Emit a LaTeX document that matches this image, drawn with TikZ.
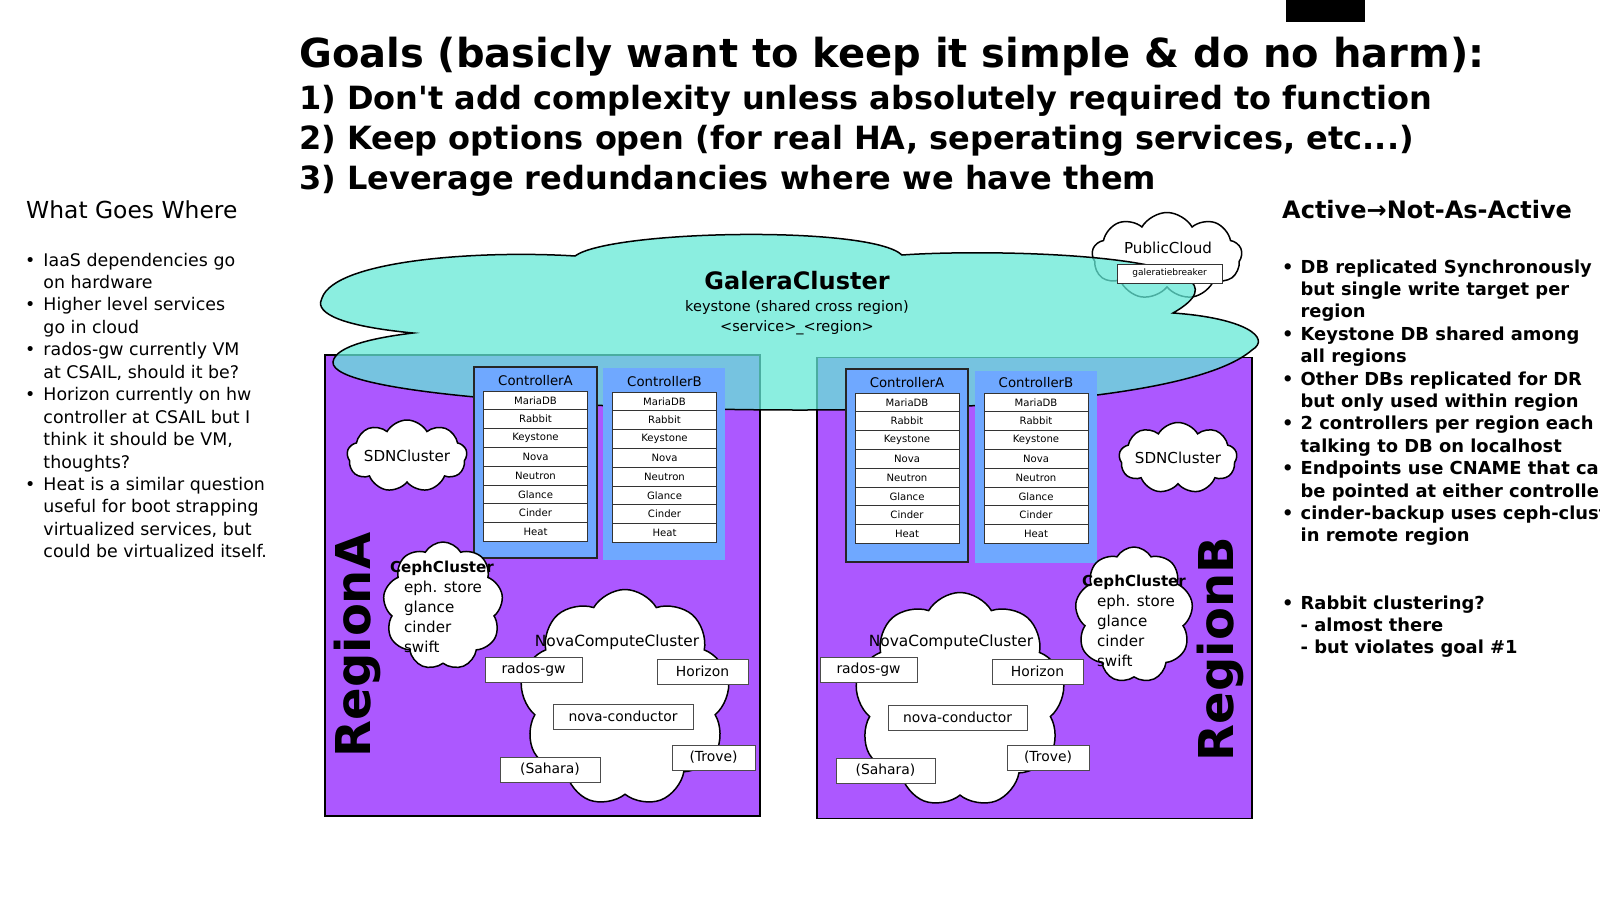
\documentclass[tikz,border=0pt]{standalone}
\usepackage{fontspec}
\setmainfont{DejaVu Sans}
\usetikzlibrary{shapes,positioning}
\definecolor{regionpurple}{RGB}{172,88,255}
\definecolor{galerateal}{RGB}{100,232,214}
\definecolor{ctrlblue}{RGB}{111,168,255}

\begin{document}
\begin{tikzpicture}[x=1pt,y=-1pt]
  \useasboundingbox (0,0) rectangle (1600,900);

  \coordinate (RegA) at (542.5,585.5);
  \coordinate (RegB) at (1034.5,588);
  \coordinate (Public) at (1167,256);
  \coordinate (CtlAA) at (535.5,462.5);
  \coordinate (CtlAB) at (664,464);
  \coordinate (CtlBA) at (907,465.5);
  \coordinate (CtlBB) at (1036,467);
  \coordinate (SdnA) at (407,456);
  \coordinate (SdnB) at (1178,458);
  \coordinate (CephA) at (443,606);
  \coordinate (CephB) at (1134,615);
  \coordinate (NovaA) at (625,698);
  \coordinate (NovaB) at (960,700);

  \tikzstyle{regbox}=[draw=black,line width=1.5pt,fill=regionpurple,
                      minimum width=435pt,minimum height=461pt,inner sep=0pt];
  \tikzstyle{ctlbox}=[fill=ctrlblue,minimum width=122pt,minimum height=192pt,
                      inner sep=0pt];
  \tikzstyle{svcbox}=[draw=black!80,fill=white,line width=1pt,
                      minimum width=104pt,minimum height=18.8pt,inner sep=0pt,
                      font=\fontsize{10.1}{12}\selectfont];
  \tikzstyle{puff}=[cloud,cloud puffs=9,cloud puff arc=120,cloud ignores aspect,
                    draw=black,line width=1.5pt,fill=white,inner sep=0pt];
  \tikzstyle{appbox}=[draw=black!70,fill=white,line width=1pt,
                      minimum height=25pt,inner sep=0pt,
                      font=\fontsize{13.9}{16}\selectfont];
  \tikzstyle{cluslabel}=[inner sep=0pt,font=\fontsize{15.1}{20}\selectfont];

  % header and side notes
  \fill (1286,0) rectangle (1365,22);
  \node[anchor=base west,inner sep=0pt,font=\fontsize{40}{48}\selectfont\bfseries]
       (GoalTitle) at (299,67) {Goals (basicly want to keep it simple \& do no harm):};
  \node[anchor=base west,inner sep=0pt,font=\fontsize{32}{40}\selectfont\bfseries]
       (GoalList) at (299,109) {\begin{tabular}[t]{@{}l@{}}
       1) Don\textquotesingle t add complexity unless absolutely required to function\\
       2) Keep options open (for real HA, seperating services, etc...)\\
       3) Leverage redundancies where we have them\end{tabular}};

  \node[anchor=base west,inner sep=0pt,font=\fontsize{23.4}{28}\selectfont]
       (WhereTitle) at (26,218) {What Goes Where};
  \node[anchor=base west,inner sep=0pt,font=\fontsize{17.4}{22.45}\selectfont]
       (WhereList) at (25,266) {\begin{tabular}[t]{@{}l@{\hspace{8pt}}l@{}}
       \textbullet & IaaS dependencies go\\
                   & on hardware\\
       \textbullet & Higher level services\\
                   & go in cloud\\
       \textbullet & rados-gw currently VM\\
                   & at CSAIL, should it be?\\
       \textbullet & Horizon currently on hw\\
                   & controller at CSAIL but I\\
                   & think it should be VM,\\
                   & thoughts?\\
       \textbullet & Heat is a similar question\\
                   & useful for boot strapping\\
                   & virtualized services, but\\
                   & could be virtualized itself.\end{tabular}};

  \node[anchor=base west,inner sep=0pt,font=\fontsize{24}{28}\selectfont\bfseries]
       (ActiveTitle) at (1282,218) {Active→Not-As-Active};
  \node[anchor=base west,inner sep=0pt,font=\fontsize{17.9}{22.4}\selectfont\bfseries]
       (ActiveList) at (1282,273) {\begin{tabular}[t]{@{}l@{\hspace{7pt}}l@{}}
       \textbullet & DB replicated Synchronously\\
                   & but single write target per\\
                   & region\\
       \textbullet & Keystone DB shared among\\
                   & all regions\\
       \textbullet & Other DBs replicated for DR\\
                   & but only used within region\\
       \textbullet & 2 controllers per region each\\
                   & talking to DB on localhost\\
       \textbullet & Endpoints use CNAME that can\\
                   & be pointed at either controller\\
       \textbullet & cinder-backup uses ceph-cluster\\
                   & in remote region\\
                   & \\
                   & \\
       \textbullet & Rabbit clustering?\\
                   & - almost there\\
                   & - but violates goal \#1\end{tabular}};

  % regions and the shared galera cloud
  \node[regbox] (RegionABox) at (RegA) {};
  \node[regbox] (RegionBBox) at (RegB) {};

  \node[puff,minimum width=150pt,minimum height=87pt] (PublicCloud) at (Public) {};

  \draw[fill=galerateal,fill opacity=0.75,line width=1.5pt]
       (575,256) .. controls (610,230) and (870,225) .. (902,255)
       .. controls (1000,248) and (1275,255) .. (1173,313)
       .. controls (1245,318) and (1272,338) .. (1252,350)
       .. controls (1200,395) and (1000,410) .. (800,410)
       .. controls (600,410) and (330,395) .. (333,362)
       .. controls (335,345) and (380,337) .. (413,333)
       .. controls (330,325) and (315,310) .. (322,298)
       .. controls (335,260) and (480,250) .. (575,256) -- cycle;

  \node[inner sep=0pt,font=\fontsize{24}{28}\selectfont\bfseries]
       (GaleraTitle) at (797,281) {GaleraCluster};
  \node[inner sep=0pt,align=center,font=\fontsize{14.5}{20}\selectfont,
        below=10pt of GaleraTitle] (GaleraText)
       {keystone (shared cross region)\\<service>\_<region>};
  \node[cluslabel] (PublicText) at (1168,248) {PublicCloud};
  \node[draw=black!80,fill=white,line width=1pt,minimum width=105pt,
        minimum height=19pt,inner sep=0pt,font=\fontsize{9}{11}\selectfont]
       (TieBox) at (1169.5,273.5) {galeratiebreaker};

  % controllers
  \node[ctlbox,draw=black!85,line width=1.5pt,minimum width=123pt,
        minimum height=191pt] (CtlAABox) at (CtlAA) {};
  \node[ctlbox] (CtlABBox) at (CtlAB) {};
  \node[ctlbox,draw=black!85,line width=1.5pt,minimum height=193pt]
       (CtlBABox) at (CtlBA) {};
  \node[ctlbox] (CtlBBBox) at (CtlBB) {};

  \foreach \ctl/\cx/\cy/\name in {AA/535.5/391/A, AB/664.5/392/B,
                                  BA/907/393/A, BB/1036/393/B} {
    \foreach \svc [count=\i] in {MariaDB,Rabbit,Keystone,Nova,Neutron,Glance,Cinder,Heat}
      \node[svcbox] (\ctl-\i) at (\cx,{\cy+18.8*\i-9.4}) {\svc};
    \node[inner sep=0pt,font=\fontsize{13.3}{16}\selectfont,above=5pt of \ctl-1]
         {Controller\name};
  }

  % clusters inside the regions
  \node[puff,minimum width=120pt,minimum height=72pt] (SdnACloud) at (SdnA) {};
  \node[cluslabel] at (SdnACloud.center) {SDNCluster};
  \node[puff,minimum width=118pt,minimum height=71pt] (SdnBCloud) at (SdnB) {};
  \node[cluslabel] at (SdnBCloud.center) {SDNCluster};

  \node[puff,minimum width=120pt,minimum height=128pt] (CephACloud) at (CephA) {};
  \node[cluslabel,align=left] at (442,607) {\textbf{CephCluster}\\
       \hspace*{14pt}eph. store\\\hspace*{14pt}glance\\
       \hspace*{14pt}cinder\\\hspace*{14pt}swift};
  \node[puff,minimum width=118pt,minimum height=136pt] (CephBCloud) at (CephB) {};
  \node[cluslabel,align=left] at (1134,621) {\textbf{CephCluster}\\
       \hspace*{15pt}eph. store\\\hspace*{15pt}glance\\
       \hspace*{15pt}cinder\\\hspace*{15pt}swift};

  \node[puff,minimum width=210pt,minimum height=217pt] (NovaACloud) at (NovaA) {};
  \node[cluslabel,font=\fontsize{15.4}{18}\selectfont] at (617,642) {NovaComputeCluster};
  \node[appbox,minimum width=97pt] (RadosA) at (533.5,669.5) {rados-gw};
  \node[appbox,minimum width=91pt] (HorizonA) at (702.5,671.5) {Horizon};
  \node[appbox,minimum width=140pt] (ConductorA) at (623,716.5) {nova-conductor};
  \node[appbox,minimum width=83pt] (TroveA) at (713.5,757.5) {(Trove)};
  \node[appbox,minimum width=100pt] (SaharaA) at (550,769.5) {(Sahara)};

  \node[puff,minimum width=210pt,minimum height=215pt] (NovaBCloud) at (NovaB) {};
  \node[cluslabel,font=\fontsize{15.4}{18}\selectfont] at (951,642) {NovaComputeCluster};
  \node[appbox,minimum width=97pt] (RadosB) at (868.5,669.5) {rados-gw};
  \node[appbox,minimum width=91pt] (HorizonB) at (1037.5,671.5) {Horizon};
  \node[appbox,minimum width=139pt] (ConductorB) at (957.5,717.5) {nova-conductor};
  \node[appbox,minimum width=82pt] (TroveB) at (1048,757.5) {(Trove)};
  \node[appbox,minimum width=99pt] (SaharaB) at (885.5,770.5) {(Sahara)};

  \node[rotate=90,inner sep=0pt,font=\fontsize{48}{56}\selectfont\bfseries]
       (RegionALabel) at (357,645) {RegionA};
  \node[rotate=90,inner sep=0pt,font=\fontsize{48}{56}\selectfont\bfseries]
       (RegionBLabel) at (1220,649) {RegionB};
\end{tikzpicture}
\end{document}
